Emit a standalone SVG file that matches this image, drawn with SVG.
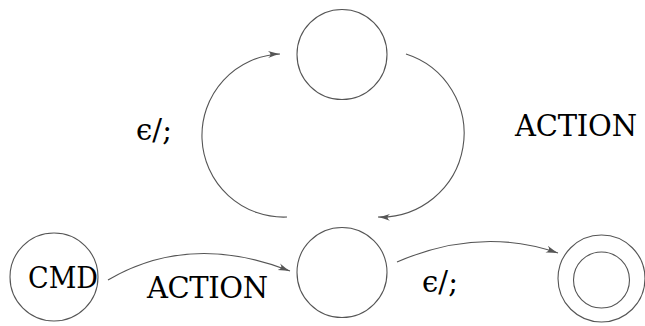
<svg xmlns="http://www.w3.org/2000/svg" width="645" height="326" viewBox="0 0 645 326">
<defs>
<marker id="ah" markerWidth="14" markerHeight="10" refX="12" refY="5" orient="auto" markerUnits="userSpaceOnUse">
<path d="M0,1.5 Q7,4 12,5 Q7,6 0,8.5 Q5,5 0,1.5 Z" fill="#555"/>
</marker>
</defs>
<style>
.n{fill:none;stroke:#555;stroke-width:1.1}
.e{fill:none;stroke:#555;stroke-width:1.1;marker-end:url(#ah)}
text{font-family:"DejaVu Serif",serif;font-size:29px;fill:#000}
</style>
<rect width="645" height="326" fill="#fff"/>
<g id="top"><circle class="n" cx="342" cy="54.5" r="45"/></g>
<g id="mid"><circle class="n" cx="342" cy="272.5" r="45"/></g>
<g id="cmd"><circle class="n" cx="54" cy="277" r="44"/><text x="28" y="288" textLength="70" lengthAdjust="spacingAndGlyphs">CMD</text></g>
<g id="final"><circle class="n" cx="601.5" cy="278.5" r="43.5"/><circle class="n" cx="601.5" cy="280" r="28"/></g>
<g id="connectors">
<path class="e" d="M108,280 Q190,232 290,271"/>
<path class="e" d="M397,262 Q480,226 558,253"/>
<path class="e" d="M287,217 A81.5 81.5 0 0 1 280,54"/>
<path class="e" d="M406,54 A83.5 83.5 0 0 1 378,217"/>
</g>
<g id="labels">
<text x="147" y="298" textLength="121">ACTION</text>
<text x="515" y="136" textLength="122">ACTION</text>
<text x="136" y="140" textLength="36">ϵ/;</text>
<text x="422" y="292" textLength="36">ϵ/;</text>
</g>
</svg>
